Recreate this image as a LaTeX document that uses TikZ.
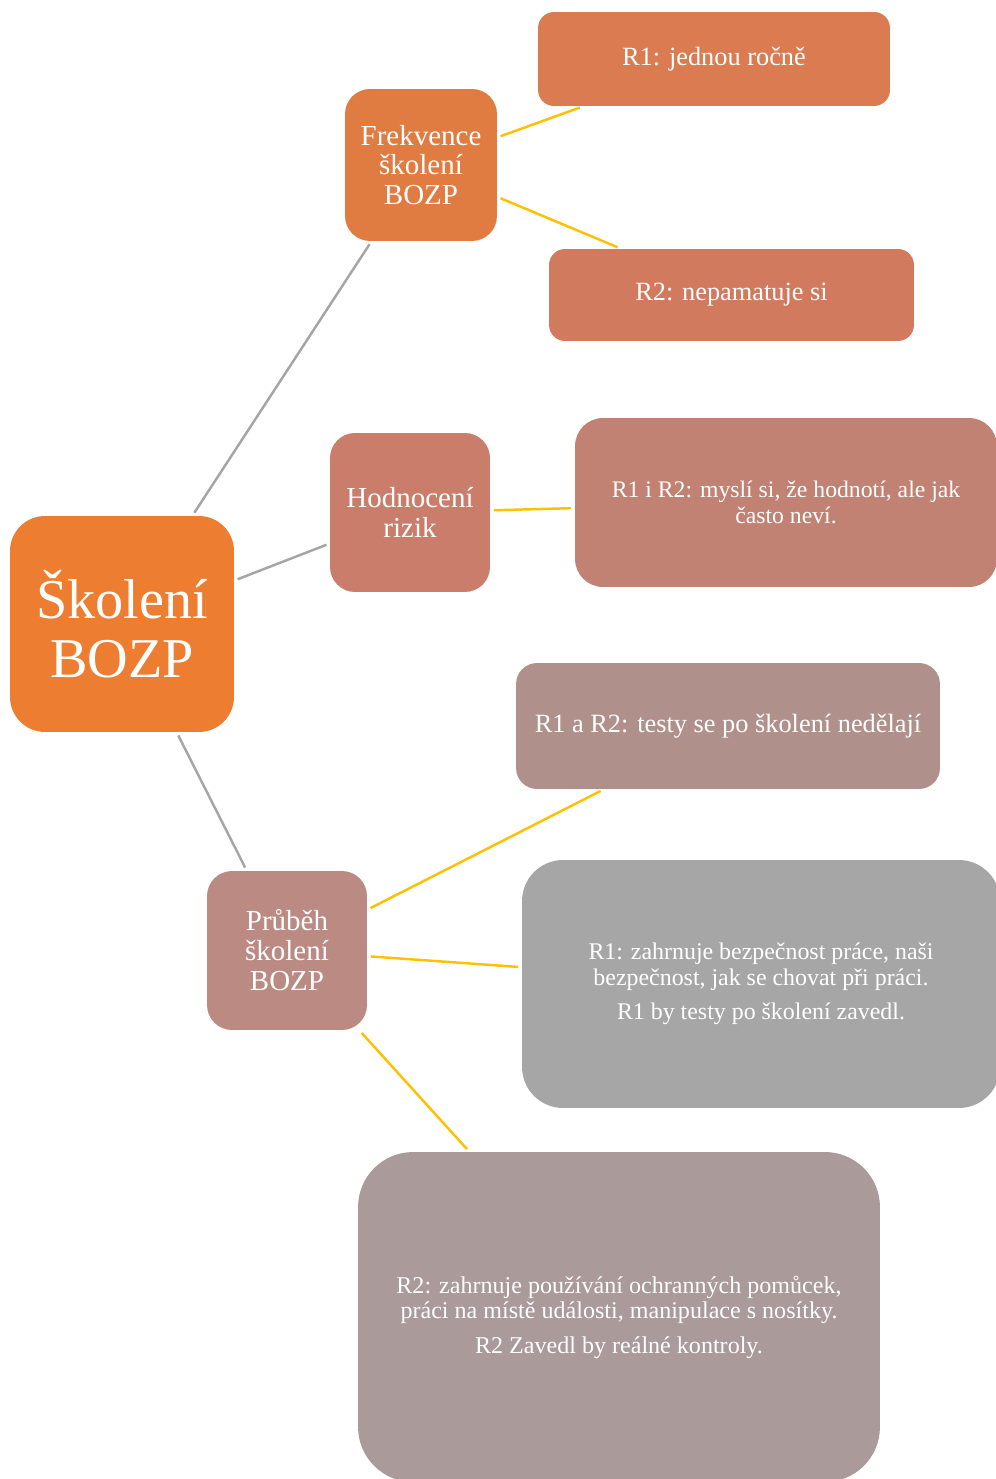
\documentclass[tikz,border=0pt]{standalone}
\usepackage{fontspec}
\setmainfont{Liberation Serif}

\definecolor{rootc}{HTML}{ED7D31}
\definecolor{freqc}{HTML}{E07B42}
\definecolor{ronec}{HTML}{DA7B51}
\definecolor{rtwoc}{HTML}{D27A5D}
\definecolor{hodc}{HTML}{C97D6A}
\definecolor{hodrc}{HTML}{C18274}
\definecolor{pruc}{HTML}{BA8A83}
\definecolor{testc}{HTML}{B0908A}
\definecolor{ronepruc}{HTML}{A6A6A6}
\definecolor{rtwopruc}{HTML}{AA9A9A}
\definecolor{grayline}{HTML}{A5A5A5}
\definecolor{yellowline}{HTML}{FFC000}

\begin{document}
\begin{tikzpicture}[
    x=0.02cm, y=-0.02cm,
    box/.style={rectangle, inner sep=0pt, align=center, text=white},
    trunk/.style={draw=grayline, line width=1.4pt, shorten <=0.07cm, shorten >=0.07cm},
    twig/.style={draw=yellowline, line width=1.4pt, shorten <=0.07cm, shorten >=0.07cm}
]
    \useasboundingbox (0,0) rectangle (995,1479);

    % Root
    \node[box, fill=rootc, rounded corners=0.7cm, minimum width=4.48cm, minimum height=4.32cm,
          font=\fontsize{32}{34}\selectfont] (root) at (122,624) {Školení\\BOZP};

    % First level
    \node[box, fill=freqc, rounded corners=0.5cm, minimum width=3.04cm, minimum height=3.04cm,
          font=\fontsize{16.5}{17}\selectfont] (freq) at (421,165) {Frekvence\\školení\\BOZP};
    \node[box, fill=hodc, rounded corners=0.5cm, minimum width=3.2cm, minimum height=3.18cm,
          font=\fontsize{16.5}{17}\selectfont] (hod) at (410,512.5) {Hodnocení\\rizik};
    \node[box, fill=pruc, rounded corners=0.5cm, minimum width=3.2cm, minimum height=3.18cm,
          font=\fontsize{16.5}{17}\selectfont] (pru) at (287,950.5) {Průběh\\školení\\BOZP};

    % Answers
    \node[box, fill=ronec, rounded corners=0.32cm, minimum width=7.04cm, minimum height=1.88cm,
          font=\fontsize{15}{17}\selectfont] (rone) at (714,59) {R1: jednou ročně};
    \node[box, fill=rtwoc, rounded corners=0.32cm, minimum width=7.3cm, minimum height=1.84cm,
          font=\fontsize{15}{17}\selectfont] (rtwo) at (731.5,295) {R2: nepamatuje si};
    \node[box, fill=hodrc, rounded corners=0.56cm, minimum width=8.44cm, minimum height=3.38cm,
          font=\fontsize{13.5}{15}\selectfont] (hodr) at (786,502.5)
          {R1 i R2: myslí si, že hodnotí, ale jak\\často neví.};
    \node[box, fill=testc, rounded corners=0.42cm, minimum width=8.48cm, minimum height=2.52cm,
          font=\fontsize{15}{17}\selectfont] (test) at (728,726)
          {R1 a R2: testy se po školení nedělají};
    \node[box, fill=ronepruc, rounded corners=0.82cm, minimum width=9.56cm, minimum height=4.96cm,
          font=\fontsize{13.6}{14.5}\selectfont] (ronepru) at (761,984)
          {R1: zahrnuje bezpečnost práce, naši\\bezpečnost, jak se chovat při práci.\\[5pt]R1 by testy po školení zavedl.};
    \node[box, fill=rtwopruc, rounded corners=1.1cm, minimum width=10.44cm, minimum height=6.6cm,
          font=\fontsize{13.7}{14.5}\selectfont] (rtwopru) at (619,1317)
          {R2: zahrnuje používání ochranných pomůcek,\\práci na místě události, manipulace s nosítky.\\[5pt]R2 Zavedl by reálné kontroly.};

    % Connectors
    \draw[trunk] (root) -- (freq);
    \draw[trunk] (root) -- (hod);
    \draw[trunk] (root) -- (pru);
    \draw[twig] (freq) -- (rone);
    \draw[twig] (freq) -- (rtwo);
    \draw[twig] (hod) -- (hodr);
    \draw[twig] (pru) -- (test);
    \draw[twig] (pru) -- (ronepru);
    \draw[twig] (pru) -- (rtwopru);
\end{tikzpicture}
\end{document}
